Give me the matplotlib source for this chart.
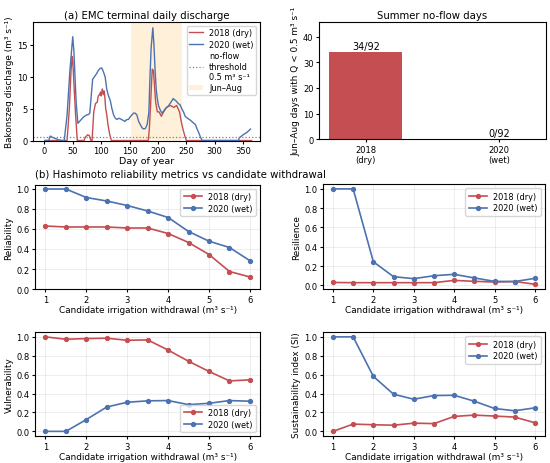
import matplotlib
matplotlib.use("Agg")
import matplotlib.pyplot as plt
import numpy as np

RED = "#c44e52"
BLUE = "#4c72b0"

# (a) daily discharge, vertices (day, m3/s)
day18 = [1, 40, 44, 47, 49, 50, 52, 55, 58, 70, 72, 76, 79, 82, 84, 87, 90, 93,
         95, 97, 99, 100, 102, 104, 105, 106, 108, 110, 112, 115, 118, 183, 185,
         187, 189, 190, 192, 194, 196, 199, 202, 206, 210, 215, 222, 228, 233,
         238, 241, 244, 248, 250, 365]
q18 = [0, 0, 5.0, 11.0, 13.2, 12.6, 9.0, 4.0, 0, 0, 0.5, 0.9, 0.8, 0, 0, 4.5,
       5.8, 6.0, 7.0, 7.2, 7.6, 7.0, 8.1, 7.2, 7.8, 7.4, 5.0, 4.0, 2.5, 1.0, 0,
       0, 2.0, 5.5, 9.5, 11.2, 11.0, 8.5, 6.0, 4.5, 4.5, 3.8, 4.5, 5.2, 5.5,
       5.2, 5.5, 4.5, 3.0, 1.8, 0.5, 0, 0]
day20 = [1, 8, 9, 11, 14, 20, 25, 31, 35, 40, 45, 50, 52, 56, 59, 64, 69, 74,
         78, 80, 83, 85, 88, 92, 95, 98, 101, 104, 107, 110, 113, 116, 119, 122,
         125, 128, 131, 134, 138, 142, 145, 148, 151, 154, 157, 160, 163, 166,
         169, 172, 175, 178, 181, 184, 186, 188, 191, 193, 195, 197, 199, 201,
         204, 207, 210, 213, 216, 219, 222, 225, 227, 229, 231, 234, 236, 239,
         242, 245, 248, 252, 257, 262, 266, 269, 272, 275, 278, 342, 343, 350,
         357, 363]
q20 = [0, 0, 0.5, 0.7, 0.5, 0.3, 0.1, 0, 0, 4.0, 11.0, 16.3, 14.0, 6.0, 2.7,
       3.2, 3.7, 4.0, 4.1, 4.3, 7.5, 9.6, 10.0, 10.5, 11.0, 11.3, 11.4, 10.8,
       10.0, 8.0, 7.0, 6.3, 5.0, 4.0, 3.5, 3.3, 3.5, 3.4, 3.2, 3.0, 3.3, 3.3,
       3.7, 4.0, 4.3, 4.3, 4.0, 3.0, 2.5, 2.0, 1.8, 1.9, 2.5, 4.4, 10.0, 14.5,
       17.7, 15.0, 11.0, 8.0, 6.5, 5.5, 4.8, 4.3, 4.6, 5.0, 5.2, 5.5, 5.9, 6.3,
       6.6, 6.4, 6.3, 6.0, 5.8, 5.6, 5.0, 4.5, 3.8, 3.5, 3.2, 2.8, 2.5, 1.8,
       1.2, 0.5, 0, 0, 0.4, 0.9, 1.3, 1.8]
threshold = 0.5
summer = (152, 243)

# summer no-flow days
years = ["2018\n(dry)", "2020\n(wet)"]
noflow = [34, 0]
n_days = 92

# (b) Hashimoto metrics vs withdrawal
withdrawal = [1, 1.5, 2, 2.5, 3, 3.5, 4, 4.5, 5, 5.5, 6]
rel18 = [0.63, 0.62, 0.62, 0.62, 0.61, 0.61, 0.555, 0.465, 0.345, 0.175, 0.12]
rel20 = [1.0, 1.0, 0.915, 0.88, 0.835, 0.78, 0.715, 0.575, 0.478, 0.415, 0.283]
res18 = [0.03, 0.028, 0.028, 0.028, 0.028, 0.028, 0.052, 0.042, 0.035, 0.04, 0.012]
res20 = [1.0, 1.0, 0.245, 0.09, 0.07, 0.10, 0.115, 0.077, 0.042, 0.04, 0.073]
vul18 = [1.0, 0.975, 0.982, 0.986, 0.964, 0.968, 0.86, 0.742, 0.634, 0.534, 0.545]
vul20 = [0.0, 0.0, 0.125, 0.258, 0.308, 0.323, 0.326, 0.283, 0.297, 0.326, 0.319]
si18 = [0.0, 0.077, 0.07, 0.065, 0.087, 0.082, 0.158, 0.172, 0.162, 0.151, 0.091]
si20 = [1.0, 1.0, 0.582, 0.393, 0.34, 0.379, 0.382, 0.319, 0.242, 0.218, 0.249]

TS, LS, TK, LG = 7.3, 6.4, 6, 5.9

fig = plt.figure(figsize=(5.5, 4.64), dpi=100)

# ---- (a)
ax = fig.add_axes([0.060, 0.695, 0.413, 0.256])
ax.axvspan(summer[0], summer[1], color="orange", alpha=0.15, lw=0, label="Jun\u2013Aug")
ax.plot(day18, q18, color=RED, lw=1.0, label="2018 (dry)")
ax.plot(day20, q20, color=BLUE, lw=1.0, label="2020 (wet)")
ax.axhline(threshold, color="gray", ls=":", lw=0.9,
           label="no-flow\nthreshold\n0.5 m\u00b3 s\u207b\u00b9")
ax.set_ylim(0, 18.65)
ax.set_xlim(-20, 380)
ax.set_xticks(range(0, 351, 50))
ax.set_title("(a) EMC terminal daily discharge", fontsize=TS, pad=3)
ax.set_xlabel("Day of year", fontsize=LS + 0.4, labelpad=1)
ax.set_ylabel("Bakonszeg discharge (m\u00b3 s\u207b\u00b9)", fontsize=LS, labelpad=2)
ax.tick_params(labelsize=TK, length=2.5, pad=1.5)
h, l = ax.get_legend_handles_labels()
ax.legend([h[1], h[2], h[3], h[0]], [l[1], l[2], l[3], l[0]], fontsize=LG,
          loc="upper right", handlelength=1.6, borderpad=0.3, labelspacing=0.3)

# ---- bar panel
ax = fig.add_axes([0.580, 0.698, 0.412, 0.253])
xb = np.arange(len(years))
ax.bar(xb, noflow, width=0.55, color=RED)
for xi, v in zip(xb, noflow):
    ax.text(xi, v + 0.4, f"{v}/{n_days}", ha="center", va="bottom", fontsize=7)
ax.set_xticks(xb)
ax.set_xticklabels(years)
ax.set_ylim(0, max(noflow) * 1.35)
ax.set_title("Summer no-flow days", fontsize=TS, pad=3)
ax.set_ylabel("Jun\u2013Aug days with Q < 0.5 m\u00b3 s\u207b\u00b9", fontsize=LS, labelpad=2)
ax.tick_params(labelsize=TK, length=2.5, pad=1.5)

# ---- (b)
panels = [
    ([0.064, 0.375, 0.409, 0.225], rel18, rel20, "Reliability", "upper right"),
    ([0.587, 0.375, 0.404, 0.226], res18, res20, "Resilience", "upper right"),
    ([0.064, 0.058, 0.409, 0.224], vul18, vul20, "Vulnerability", "lower right"),
    ([0.587, 0.058, 0.404, 0.224], si18, si20, "Sustainability index (SI)", "upper right"),
]
for pos, y18, y20, name, loc in panels:
    ax = fig.add_axes(pos)
    ax.plot(withdrawal, y18, "-o", color=RED, lw=1.2, ms=2.8, label="2018 (dry)")
    ax.plot(withdrawal, y20, "-o", color=BLUE, lw=1.2, ms=2.8, label="2020 (wet)")
    ax.grid(True, alpha=0.3, lw=0.5)
    ax.set_ylabel(name, fontsize=LS, labelpad=2)
    ax.set_xlabel("Candidate irrigation withdrawal (m\u00b3 s\u207b\u00b9)", fontsize=LS, labelpad=1)
    ax.set_yticks([0, 0.2, 0.4, 0.6, 0.8, 1.0])
    ax.tick_params(labelsize=TK, length=2.5, pad=1.5)
    ax.legend(fontsize=LG, loc=loc, handlelength=2.2, borderpad=0.4, labelspacing=0.35)

fig.text(0.064, 0.612, "(b) Hashimoto reliability metrics vs candidate withdrawal",
         fontsize=TS, ha="left", va="bottom")

fig.savefig("out.png", dpi=100)
